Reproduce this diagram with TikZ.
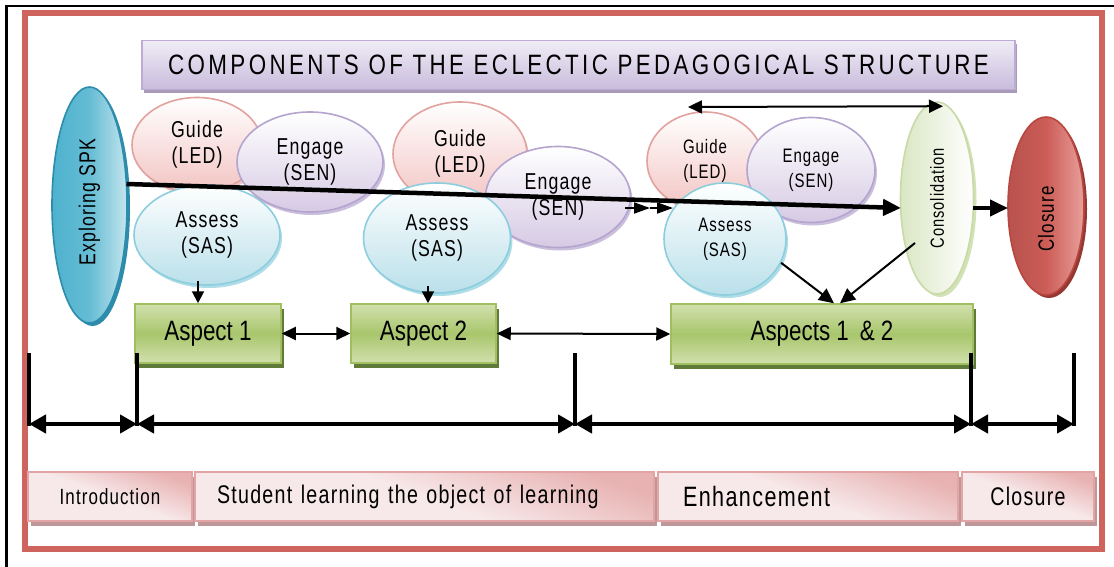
\documentclass[tikz,border=0pt]{standalone}
\usepackage{fontspec}
\setmainfont{Liberation Sans}[FakeStretch=0.8]
\newfontfamily\titlefont{Liberation Sans}[FakeStretch=0.8,LetterSpace=12]
\newfontfamily\spfont{Liberation Sans}[FakeStretch=0.77,LetterSpace=5]
\usetikzlibrary{arrows.meta,shapes.geometric,shadows}
\definecolor{redframe}{RGB}{207,100,95}
\definecolor{titletop}{RGB}{240,236,246}
\definecolor{titlebot}{RGB}{200,188,220}
\definecolor{titleborder}{RGB}{188,172,212}
\definecolor{titleshadow}{RGB}{168,155,185}
\definecolor{spktop}{RGB}{170,218,230}
\definecolor{spkbot}{RGB}{78,178,206}
\definecolor{spkborder}{RGB}{45,140,172}
\definecolor{guidebot}{RGB}{242,196,194}
\definecolor{guideborder}{RGB}{226,162,158}
\definecolor{engbot}{RGB}{214,202,228}
\definecolor{engborder}{RGB}{180,164,206}
\definecolor{assbot}{RGB}{186,224,234}
\definecolor{assborder}{RGB}{140,206,222}
\definecolor{conbot}{RGB}{218,230,196}
\definecolor{conborder}{RGB}{200,218,166}
\definecolor{clotop}{RGB}{232,160,156}
\definecolor{clobot}{RGB}{204,92,86}
\definecolor{cloborder}{RGB}{186,70,64}
\definecolor{asptop}{RGB}{210,224,174}
\definecolor{aspmid}{RGB}{168,198,108}
\definecolor{aspborder}{RGB}{160,192,96}
\definecolor{aspshadow}{RGB}{96,122,58}
\definecolor{pinkL}{RGB}{247,232,233}
\definecolor{pinkD}{RGB}{232,178,178}
\definecolor{pinkborder}{RGB}{226,164,164}
\definecolor{pinkshadow}{RGB}{190,152,152}
\tikzset{
  ell/.style={ellipse, inner sep=0pt, align=center, line width=1.6pt,
    font=\spfont\fontsize{23}{26}\selectfont},
  ellsm/.style={ell, font=\spfont\fontsize{19.5}{25}\selectfont},
  guide/.style={draw=guideborder, top color=white, bottom color=guidebot,
    drop shadow={shadow xshift=2pt, shadow yshift=-3pt, fill=guideborder, opacity=.6}},
  engage/.style={draw=engborder, top color=white, bottom color=engbot,
    drop shadow={shadow xshift=2pt, shadow yshift=-3pt, fill=engborder, opacity=.7}},
  assess/.style={draw=assborder, top color=white, bottom color=assbot,
    drop shadow={shadow xshift=2pt, shadow yshift=-3pt, fill=assborder, opacity=.7}},
  aspect/.style={rectangle, draw=aspborder, line width=1.5pt, top color=asptop,
    bottom color=asptop, middle color=aspmid, inner sep=0pt,
    font=\fontsize{28}{30}\selectfont,
    drop shadow={shadow xshift=3pt, shadow yshift=-5pt, fill=aspshadow, opacity=1}},
  phase/.style={rectangle, draw=pinkborder, line width=1.5pt, top color=pinkL,
    bottom color=pinkD, middle color=pinkL, shading angle=160, inner sep=0pt, minimum height=49pt,
    drop shadow={shadow xshift=3pt, shadow yshift=-5pt, fill=pinkshadow, opacity=1}},
  thinarr/.style={line width=2pt, {Triangle[length=14pt,width=13pt]}-{Triangle[length=14pt,width=13pt]}},
  downarr/.style={line width=2pt, -{Triangle[length=12pt,width=12pt]}},
  bigarr/.style={line width=4.5pt, -{Triangle[length=18pt,width=16pt]}},
  brk/.style={line width=4.5pt},
  brkarr/.style={line width=4.5pt, {Triangle[length=17pt,width=18pt]}-{Triangle[length=17pt,width=18pt]}},
}
\begin{document}
\begin{tikzpicture}[x=1pt,y=-1pt]
\useasboundingbox (0,0) rectangle (1114,567);
\fill[white] (0,0) rectangle (1114,567);
% frames
\draw[line width=2.5pt] (6.5,567) -- (6.5,6) -- (1114,6);
\draw[redframe, line width=6pt] (25,13) rectangle (1102,549);

% title
\node[rectangle, draw=titleborder, line width=1.5pt, top color=titletop, bottom color=titlebot,
  minimum width=873pt, minimum height=49pt, inner sep=0pt,
  drop shadow={shadow xshift=2pt, shadow yshift=-4pt, fill=titleshadow, opacity=1},
  font=\titlefont\fontsize{28}{30}\selectfont] (title) at (578.5,65)
  {COMPONENTS OF THE ECLECTIC PEDAGOGICAL STRUCTURE};

% exploring SPK
\node[ell, rotate=90, minimum width=236pt, minimum height=75pt, draw=spkborder,
  left color=spkbot, right color=spktop!70!white, middle color=spkbot!75!spktop,
  drop shadow={shadow xshift=3pt, shadow yshift=-3pt, fill=spkborder, opacity=1},
  font=\spfont\fontsize{23}{26}\selectfont] (spk) at (89.5,205) {\hspace*{6pt}Exploring SPK};

% group 1
\node[ell, guide, minimum width=130pt, minimum height=95pt] (g1) at (197,145) {Guide\\(LED)};
\node[ell, assess, minimum width=146pt, minimum height=100pt] (a1) at (207,235) {Assess\\(SAS)};
\node[ell, engage, minimum width=146pt, minimum height=100pt] (e1) at (310,162) {Engage\\(SEN)};

% group 2
\node[ell, guide, minimum width=134pt, minimum height=104pt] (g2) at (460,154) {Guide\\(LED)};
\node[ell, engage, minimum width=145pt, minimum height=101pt] (e2) at (558,197) {Engage\\(SEN)};
\node[ell, assess, minimum width=147pt, minimum height=110pt] (a2) at (437,238) {Assess\\(SAS)};

% group 3
\node[ellsm, guide, minimum width=116pt, minimum height=98pt] (g3) at (705,161) {Guide\\(LED)};
\node[ellsm, engage, minimum width=128pt, minimum height=105pt] (e3) at (811,170) {Engage\\(SEN)};
\node[ellsm, assess, minimum width=122pt, minimum height=112pt] (a3) at (725,239) {Assess\\(SAS)};

% consolidation and closure
\node[ell, rotate=90, minimum width=192pt, minimum height=73pt, draw=conborder,
  left color=conbot, right color=white,
  drop shadow={shadow xshift=3pt, shadow yshift=-3pt, fill=conborder, opacity=.8},
  font=\spfont\fontsize{19}{22}\selectfont] (cons) at (937,198) {Consolidation};
\node[ell, rotate=90, minimum width=178pt, minimum height=76pt, draw=cloborder,
  left color=clobot!90!black, right color=clotop, middle color=clobot,
  drop shadow={shadow xshift=3pt, shadow yshift=-3pt, fill=cloborder!80!black, opacity=1},
  font=\spfont\fontsize{22}{26}\selectfont] (clo) at (1046,206) {Closure\hspace*{26pt}};

% aspect boxes
\node[aspect, minimum width=146pt, minimum height=59pt] (asp1) at (208,333.5) {Aspect 1};
\node[aspect, minimum width=145pt, minimum height=59pt] (asp2) at (423.5,333.5) {Aspect 2};
\node[aspect, minimum width=302pt, minimum height=60pt] (asp12) at (822,334) {Aspects 1 \,\& 2};

% phase boxes
\node[phase, minimum width=164pt, font=\spfont\fontsize{22}{24}\selectfont] (intro) at (110,496.5) {Introduction};
\node[phase, text width=415pt, inner xsep=22pt, align=left, font=\spfont\fontsize{25.5}{28}\selectfont] (learn) at (424.5,496.5) {Student learning the object of learning};
\node[phase, text width=250pt, inner xsep=25pt, align=left, font=\spfont\fontsize{28}{30}\selectfont] (enh) at (808,496.5) {Enhancement};
\node[phase, minimum width=132pt, font=\spfont\fontsize{25.5}{28}\selectfont] (clos) at (1028,496.5) {Closure};

% connectors
\draw[bigarr] ([shift={(37,-21)}]spk.center) -- ([shift={(-36,10)}]cons.center);
\draw[bigarr] ([shift={(36,10)}]cons.center) -- ([shift={(-38,2)}]clo.center);
\coordinate (topL) at (688,107);
\draw[thinarr] (topL) -- ([shift={(6,5)}]cons.east);
\coordinate (sa) at (625,208);
\coordinate (sb) at (650,208);
\draw[line width=1.8pt, -{Triangle[length=16pt,width=11pt]}] (sa) -- (sb);
\draw[line width=1.8pt, -{Triangle[length=16pt,width=11pt]}] (sb) -- ([shift={(-52,-31)}]a3.center);
\draw[downarr] ([shift={(-9,-5)}]a1.south) -- ([xshift=-10]asp1.north);
\draw[downarr] ([shift={(-9,-8)}]a2.south) -- ([xshift=4.5]asp2.north);
\draw[thinarr] (asp1.east) -- (asp2.west);
\draw[thinarr] (asp2.east) -- (asp12.west);
\draw[line width=2pt, -{Triangle[length=15pt,width=14pt]}] (a3.-23) -- ([xshift=12]asp12.north);
\draw[line width=2pt, -{Triangle[length=15pt,width=14pt]}] ([shift={(-22,45)}]cons.center) -- ([xshift=18]asp12.north);

% brackets
\coordinate (b1) at (29,424);
\coordinate (b2) at (137,424);
\coordinate (b3) at (575,424);
\coordinate (b4) at (971,424);
\coordinate (b5) at (1074,424);
\foreach \b in {b1,b2,b3,b4,b5} {\draw[brk] ([yshift=71pt]\b) -- ([yshift=-2pt]\b);}
\draw[brkarr] (b1) -- (b2);
\draw[brkarr] (b2) -- (b3);
\draw[brkarr] (b3) -- (b4);
\draw[brkarr] (b4) -- (b5);
\end{tikzpicture}
\end{document}
